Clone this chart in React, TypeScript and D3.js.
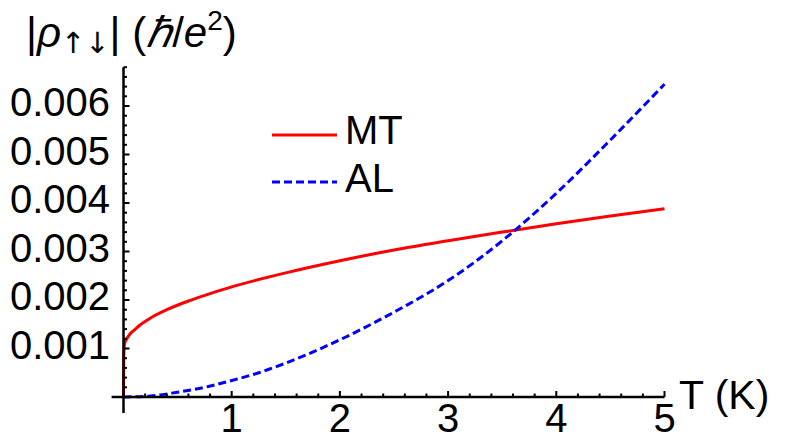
import React from "react";
import * as d3 from "d3";

const W = 785;
const H = 440;

// MT series (T in K, |rho| in hbar/e^2)
const mtT = [0, 0.003, 0.01, 0.03, 0.06, 0.1, 0.15, 0.25, 0.4, 0.6, 0.8, 1, 1.5, 2, 2.5, 3, 3.5, 4, 4.5, 5];
const mtV = [0, 0.00085, 0.0011, 0.0012, 0.0013, 0.00138, 0.00148, 0.00163, 0.0018, 0.00198, 0.00213, 0.00227, 0.00256, 0.00281, 0.00303, 0.00322, 0.0034, 0.00357, 0.00373, 0.00388];

// AL series
const alT = [0, 0.25, 0.5, 0.75, 1, 1.25, 1.5, 2, 2.5, 3, 3.5, 4, 4.5, 5];
const alV = [0, 0.00002, 0.0001, 0.0002, 0.00034, 0.0005, 0.0007, 0.00118, 0.00175, 0.0024, 0.00322, 0.0042, 0.0053, 0.00645];

const xTicks = [1, 2, 3, 4, 5];
const yTicks = [0.001, 0.002, 0.003, 0.004, 0.005, 0.006];
const seriesNames = ["MT", "AL"];

export default function App() {
  const x = d3.scaleLinear().domain([0, 5]).range([123.5, 664.5]);
  const y = d3.scaleLinear().domain([0, 0.006]).range([397, 106]);
  const font = "'Liberation Sans', Arial, sans-serif";
  const fs = 40;

  const line = d3
    .line<[number, number]>()
    .x((d) => x(d[0]))
    .y((d) => y(d[1]))
    .curve(d3.curveMonotoneX);

  const mtPath = line(mtT.map((t, i) => [t, mtV[i]] as [number, number])) || "";
  const alPath = line(alT.map((t, i) => [t, alV[i]] as [number, number])) || "";

  const xMinor = d3.range(0, 5.0001, 0.2).map((v) => +v.toFixed(2));
  const yMinor = d3.range(0, 0.00681, 0.0002).map((v) => +v.toFixed(5));

  const x0 = x(0);
  const y0 = y(0);

  return (
    <svg width={W} height={H} style={{ position: "absolute", left: 0, top: 0, background: "#fff" }} fontFamily={font}>
      <rect x={0} y={0} width={W} height={H} fill="#fff" />
      {/* curves */}
      <path d={mtPath} fill="none" stroke="#ff0000" strokeWidth={3} />
      <path d={alPath} fill="none" stroke="#0000ff" strokeWidth={3} strokeDasharray="8,4" />

      {/* axes */}
      <line x1={x(-0.11)} x2={x(5)} y1={y0} y2={y0} stroke="#000" strokeWidth={2.5} />
      <line x1={x0} x2={x0} y1={y(-0.00033)} y2={y(0.0068)} stroke="#000" strokeWidth={2.5} />

      {/* x ticks */}
      {xMinor.map((v) => (
        <line key={"xm" + v} x1={x(v)} x2={x(v)} y1={y0} y2={y0 - (xTicks.includes(v) ? 6 : 3.5)} stroke="#000" strokeWidth={2} />
      ))}
      {/* y ticks */}
      {yMinor.map((v) => (
        <line key={"ym" + v} x1={x0} x2={x0 + (yTicks.some((t) => Math.abs(t - v) < 1e-7) ? 6 : 3.5)} y1={y(v)} y2={y(v)} stroke="#000" strokeWidth={2} />
      ))}

      {/* x tick labels */}
      {xTicks.map((v) => (
        <text key={"xl" + v} x={x(v)} y={432} textAnchor="middle" fontSize={fs} fill="#000">
          {v}
        </text>
      ))}
      {/* y tick labels */}
      {yTicks.map((v) => (
        <text key={"yl" + v} x={110} y={y(v) + 10} textAnchor="end" fontSize={fs} fill="#000">
          {v.toFixed(3)}
        </text>
      ))}

      {/* axis labels */}
      <text x={679} y={409} fontSize={41} fill="#000">T (K)</text>
      <text x={26} y={47} fontSize={42} fill="#000">
        <tspan>|</tspan>
        <tspan fontStyle="italic">ρ</tspan>
        <tspan fontSize={29} dy={6} fontFamily="'DejaVu Sans', sans-serif">↑↓</tspan>
        <tspan dy={-6}>|</tspan>
        <tspan> (</tspan>
        <tspan fontStyle="italic">ℏ</tspan>
        <tspan>/</tspan>
        <tspan fontStyle="italic">e</tspan>
        <tspan fontSize={28} dy={-17}>2</tspan>
        <tspan dy={17}>)</tspan>
      </text>

      {/* legend */}
      <line x1={272} x2={337} y1={135} y2={135} stroke="#ff0000" strokeWidth={3} />
      <text x={345} y={144} fontSize={fs} fill="#000">{seriesNames[0]}</text>
      <line x1={272} x2={337} y1={182} y2={182} stroke="#0000ff" strokeWidth={3} strokeDasharray="8,4" />
      <text x={345} y={192} fontSize={fs} fill="#000">{seriesNames[1]}</text>
    </svg>
  );
}
